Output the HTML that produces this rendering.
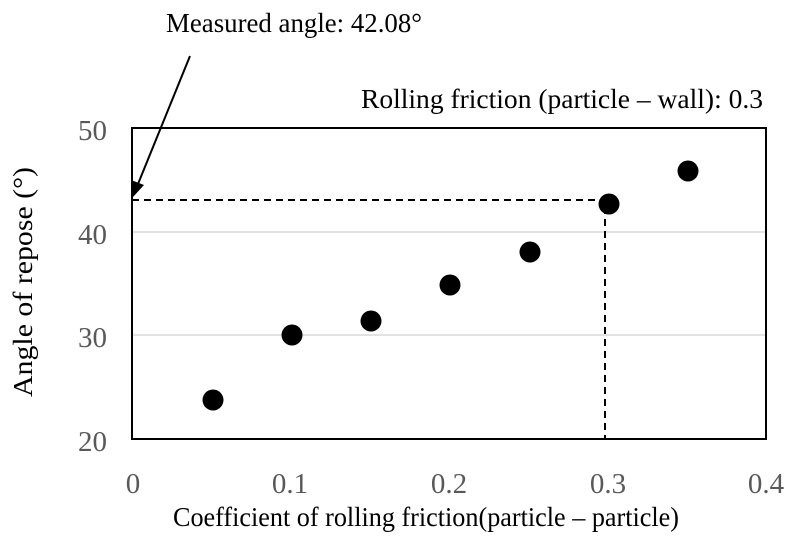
<!DOCTYPE html>
<html><head><meta charset="utf-8"><style>
html,body{margin:0;padding:0;background:#fff;}
svg{display:block;font-family:"Liberation Serif",serif;}
</style></head><body>
<svg width="792" height="549" viewBox="0 0 792 549" xmlns="http://www.w3.org/2000/svg">
<rect width="792" height="549" fill="#fff"/>
<line x1="132" y1="232" x2="766" y2="232" stroke="#d9d9d9" stroke-width="1.5"/>
<line x1="132" y1="335" x2="766" y2="335" stroke="#d9d9d9" stroke-width="1.5"/>
<rect x="132" y="128" width="634" height="311" fill="none" stroke="#000" stroke-width="2"/>
<polyline points="132,200 605,200 605,439" fill="none" stroke="#000" stroke-width="2" stroke-dasharray="7,5"/>
<g fill="#000">
<circle cx="213" cy="400" r="10.5"/>
<circle cx="292" cy="335" r="10.5"/>
<circle cx="371" cy="321" r="10.5"/>
<circle cx="450" cy="285" r="10.5"/>
<circle cx="530" cy="252" r="10.5"/>
<circle cx="609" cy="204" r="10.5"/>
<circle cx="688" cy="171" r="10.5"/>
</g>
<line x1="190" y1="56" x2="138" y2="184" stroke="#000" stroke-width="2"/>
<polygon points="133,197 131,180 144,185" fill="#000"/>
<g font-size="29" fill="#595959" text-anchor="end">
<text x="107" y="140">50</text>
<text x="107" y="244">40</text>
<text x="107" y="347">30</text>
<text x="107" y="451">20</text>
</g>
<g font-size="29" fill="#595959" text-anchor="middle">
<text x="133" y="493">0</text>
<text x="290" y="493">0.1</text>
<text x="449" y="493">0.2</text>
<text x="608" y="493">0.3</text>
<text x="766" y="493">0.4</text>
</g>
<text x="173" y="526" font-size="27" textLength="506" lengthAdjust="spacingAndGlyphs" fill="#000">Coefficient of rolling friction(particle – particle)</text>
<text transform="translate(32,397) rotate(-90)" font-size="27" textLength="230" lengthAdjust="spacingAndGlyphs" fill="#000">Angle of repose (°)</text>
<text x="166" y="32" font-size="27" textLength="256" lengthAdjust="spacingAndGlyphs" fill="#000">Measured angle: 42.08°</text>
<text x="361" y="108" font-size="27" textLength="402" lengthAdjust="spacingAndGlyphs" fill="#000">Rolling friction (particle – wall): 0.3</text>
</svg>
</body></html>
